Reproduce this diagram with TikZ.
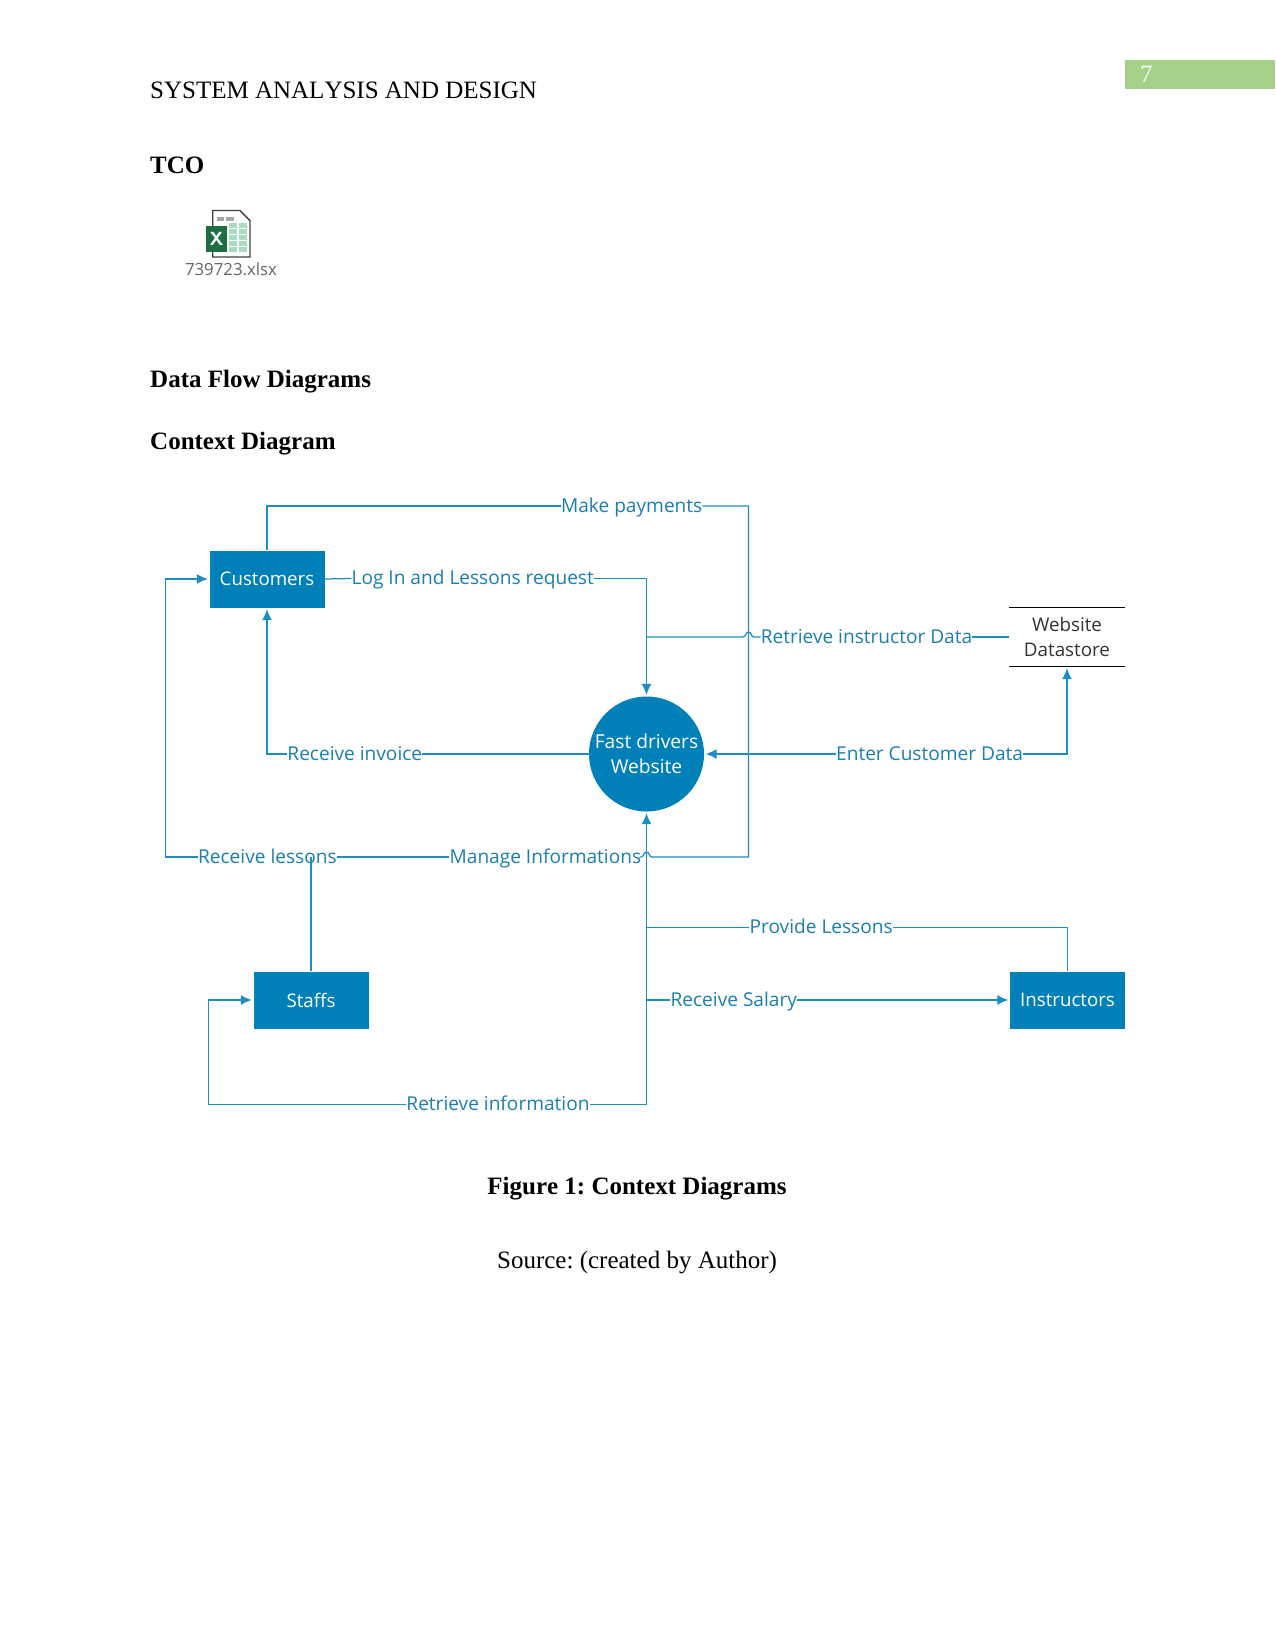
\documentclass[tikz,border=0pt]{standalone}
\usepackage{fontspec}
\setmainfont[Kerning=Off]{Liberation Serif}
\newfontfamily\flowfont{Open Sans}
\usetikzlibrary{arrows.meta}
\definecolor{flowblue}{HTML}{0080B8}
\definecolor{flowline}{HTML}{1E8DC0}
\definecolor{tabgreen}{HTML}{A5D08A}
\definecolor{xlgreen}{HTML}{1D6F42}
\definecolor{xlcell}{HTML}{A8DCC0}
\tikzset{
  pagetext/.style={inner sep=0pt,anchor=base west,font=\frenchspacing\fontsize{25}{30}\selectfont,text=black},
  headtext/.style={pagetext,font=\frenchspacing\fontsize{25}{30}\selectfont\bfseries},
  centred/.style={anchor=base},
  entitybox/.style={fill=flowblue,minimum width=115pt,minimum height=57pt,inner sep=0pt,text=white,font=\flowfont\fontsize{18.7}{25}\selectfont,align=center},
  processnode/.style={circle,fill=flowblue,minimum size=115pt,inner sep=0pt,text=white,font=\flowfont\fontsize{19.2}{25}\selectfont,align=center},
  storenode/.style={minimum width=115pt,minimum height=59pt,inner sep=0pt,text=black!80,font=\flowfont\fontsize{18.8}{25}\selectfont,align=center},
  flowlabel/.style={inner sep=0pt,text=flowline!90!black,font=\flowfont\fontsize{19.1}{24}\selectfont,text height=17pt,text depth=5pt},
  flow/.style={draw=flowline,line width=1.25pt},
  flowarrow/.style={flow,-{Latex[length=11pt,width=10pt]},shorten >=1.5pt},
  x=1pt,y=-1pt
}
\begin{document}
\begin{tikzpicture}
\useasboundingbox (0,0) rectangle (1275,1651);
\fill[white] (0,0) rectangle (1275,1651);

% running header and page number tab
\fill[tabgreen] (1124.5,60.5) rectangle (1275,89);
\node[pagetext,text=white!90!tabgreen] (pagenum) at (1140,83) {7};
\node[pagetext] (runhead) at (150,99) {SYSTEM ANALYSIS AND DESIGN};

% headings
\node[headtext] (tco) at (150,173) {TCO};
\node[headtext] (dfd) at (150,387.5) {Data Flow Diagrams};
\node[headtext] (ctx) at (150,449.5) {Context Diagram};

% spreadsheet attachment icon
\filldraw[fill=white,draw=black!75,line width=1.4pt] (212.7,210.5) -- (240,210.5) -- (250,220.7) -- (250,257) -- (212.7,257) -- cycle;
\fill[black!35] (217,217) rectangle (224,221);
\fill[black!35] (226,217) rectangle (234,221);
\foreach \cy in {223,229,235,241,247}{
  \fill[xlcell] (229,\cy) rectangle (236.5,\cy+4.5);
  \fill[xlcell] (238.5,\cy) rectangle (246.5,\cy+4.5);
}
\fill[xlgreen] (205.7,225.7) rectangle (227.3,252.3);
\node[inner sep=0pt,text=white,font=\fontfamily{lmss}\fontsize{19}{20}\selectfont\bfseries] (xlmark) at (216.5,239) {X};
\node[inner sep=0pt,text=black!60,font=\flowfont\fontsize{16.8}{18}\selectfont] (xlname) at (231,269.5) {739723.xlsx};

% context diagram nodes
\node[entitybox] (cust) at (267,579) {Customers};
\node[entitybox] (staff) at (311,1000) {Staffs};
\node[entitybox] (instr) at (1067.5,1000) {Instructors};
\node[processnode] (site) at (646.5,754) {Fast drivers\\Website};
\node[storenode] (store) at (1067,637) {Website\\Datastore};
\draw[black,line width=1.2pt] (store.north west) -- (store.north east);
\draw[black,line width=1.2pt] (store.south west) -- (store.south east);

% flow labels
\node[flowlabel] (pay) at (631.7,506) {Make payments};
\node[flowlabel] (login) at (472.7,578.5) {Log In and Lessons request};
\node[flowlabel] (retr) at (866.5,637) {Retrieve instructor Data};
\node[flowlabel] (inv) at (354.8,754) {Receive invoice};
\node[flowlabel] (enter) at (929.6,754) {Enter Customer Data};
\node[flowlabel] (less) at (267.4,857) {Receive lessons};
\node[flowlabel] (manage) at (545.4,857) {Manage Informations};
\node[flowlabel] (prov) at (821.2,927.5) {Provide Lessons};
\node[flowlabel] (sal) at (733.8,1000) {Receive Salary};
\node[flowlabel] (info) at (498,1104.5) {Retrieve information};

% junctions and turning points on the shared lines
\coordinate (busR) at (748.5,857);
\coordinate (lessTurn) at (165.3,857);
\coordinate (infoTurn) at (208.5,1104.5);
\coordinate (jStore) at (site.north |- retr.west);
\coordinate (jProv) at (site.south |- prov.west);
\coordinate (jSal) at (site.south |- sal.west);
\coordinate (jInfo) at (site.south |- info.east);
\coordinate (hopAr) at (754,637);
\coordinate (hopAl) at (743,637);
\coordinate (hopBr) at (652,857);
\coordinate (hopBl) at (641,857);

% connectors
\draw[flow] (cust.north) |- (pay.west);
\draw[flow] (pay.east) -| (busR) -- (hopBr) .. controls (649,857) and (649.5,852) .. (646.5,852) .. controls (643.5,852) and (644,857) .. (hopBl) -- (manage.east);
\draw[flow] (manage.west) -- (less.east);
\draw[flow] (less.west) -- (lessTurn);
\draw[flowarrow] (lessTurn) |- (cust.west);
\draw[flow] (staff.north) -- (staff.north |- less.east);
\draw[flow] (cust.east) -- (login.west);
\draw[flowarrow] (login.east) -| (site.north);
\draw[flow] (store.west) -- (retr.east);
\draw[flow] (retr.west) -- (hopAr) .. controls (751,637) and (751.5,632) .. (748.5,632) .. controls (745.5,632) and (746,637) .. (hopAl) -- (jStore);
\draw[flow] (site.west) -- (inv.east);
\draw[flowarrow] (inv.west) -| (cust.south);
\draw[flowarrow] (enter.west) -- (site.east);
\draw[flowarrow] (enter.east) -| (store.south);
\draw[flowarrow] (jInfo) -- (site.south);
\draw[flow] (instr.north) |- (prov.east);
\draw[flow] (prov.west) -- (jProv);
\draw[flow] (jSal) -- (sal.west);
\draw[flowarrow] (sal.east) -- (instr.west);
\draw[flow] (jInfo) -- (info.east);
\draw[flow] (info.west) -- (infoTurn);
\draw[flowarrow] (infoTurn) |- (staff.west);

% caption
\node[headtext,centred] (figcap) at (637,1194) {Figure 1: Context Diagrams};
\node[pagetext,centred] (figsrc) at (637,1268) {Source: (created by Author)};
\end{tikzpicture}
\end{document}
